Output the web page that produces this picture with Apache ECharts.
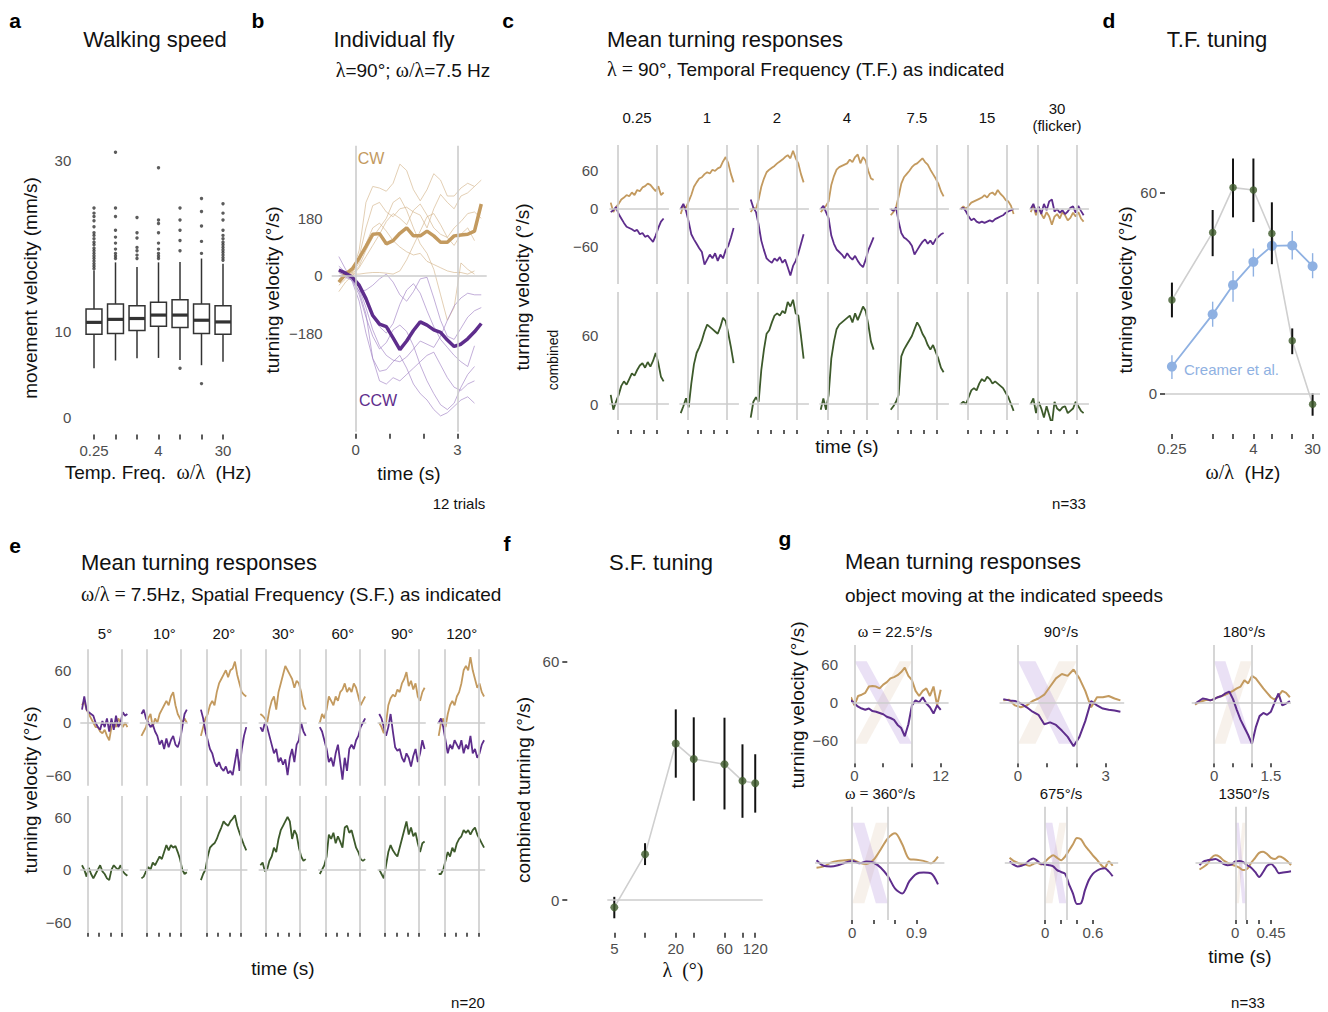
<!DOCTYPE html>
<html>
<head>
<meta charset="utf-8">
<title>Turning responses</title>
<script src="https://cdn.jsdelivr.net/npm/echarts@6.0.0/dist/echarts.min.js"></script>
<style>
html, body { margin: 0; padding: 0; background: #fff; }
#chart { width: 1328px; height: 1012px; }
</style>
</head>
<body>
<div id="chart"></div>
<script>
// Colours and fonts
const CW_COL = '#c39a5f', CCW_COL = '#5e2d8c', COMB_COL = '#3d5a2b', CREAMER_COL = '#8fb1e2';
const REF_COL = '#cccccc', INK = '#262626', TICK_TXT = '#4d4d4d';
const SANS = '"Liberation Sans", Arial, Helvetica, sans-serif';
const SERIF = '"Liberation Serif", "DejaVu Serif", serif';

// ---- a: walking speed, box stats per temporal frequency
const tfLabels = ['0.25', '1', '2', '4', '7.5', '15', '30'];
const walkLow  = [5.7, 6.6, 6.85, 6.9, 6.65, 6.05, 6.45];
const walkQ1   = [9.65, 9.75, 10.1, 10.6, 10.45, 9.75, 9.65];
const walkMed  = [11.05, 11.4, 11.5, 11.9, 11.9, 11.3, 11.1];
const walkQ3   = [12.6, 13.2, 13.0, 13.4, 13.7, 13.2, 13.0];
const walkHigh = [17.1, 18.05, 17.5, 18.05, 18.1, 18.5, 17.9];
const walkOutliers = [
  [17.3, 17.6, 17.9, 18.2, 18.5, 18.8, 19.1, 19.4, 19.7, 20.1, 20.4, 20.8, 21.2, 21.5, 22.2, 22.9, 23.4, 23.8, 24.4],
  [18.5, 18.8, 19.1, 19.6, 20.3, 21.0, 21.8, 23.4, 24.4, 30.9],
  [18.5, 18.9, 19.4, 19.8, 20.9, 21.5, 23.3],
  [18.5, 18.8, 19.1, 19.6, 20.3, 21.5, 22.6, 23.0, 29.1],
  [5.7, 19.4, 20.6, 21.8, 23.0, 24.4],
  [3.9, 19.1, 20.5, 22.3, 24.0, 25.5],
  [18.3, 18.6, 18.9, 19.2, 19.5, 19.8, 20.1, 20.4, 20.8, 21.2, 21.8, 23.0, 23.8, 24.9]
];

// ---- b: individual fly, 12 trials plus means
const bTime = [-0.5, -0.3, -0.1, 0.1, 0.3, 0.5, 0.7, 0.9, 1.1, 1.3, 1.5, 1.7, 1.9, 2.1, 2.3, 2.5, 2.7, 2.9, 3.1, 3.3, 3.5, 3.7];
const bTrialsCW = [
  [-10, 0, 10, 80, 230, 280, 275, 265, 290, 350, 330, 270, 235, 270, 320, 300, 250, 250, 275, 290, 280, null],
  [-30, -10, 15, 60, 150, 220, 230, 200, 185, 210, 215, 200, 190, 150, 210, 255, 230, 210, 250, 260, 280, 300],
  [0, 5, 10, 40, 100, 150, 165, 140, 110, 90, 75, 65, 70, 45, 35, 25, 15, 10, 10, 5, 15, null],
  [10, 0, 5, 5, 8, 10, 10, 8, 5, 15, 50, 95, 140, 185, 195, 160, 120, 95, 130, 150, 110, null],
  [-20, 0, 5, 30, 80, 120, 150, 180, 230, 245, 205, 150, 100, 70, 20, -60, -140, -100, 40, 20, 5, null],
  [-50, -20, 0, 25, 60, 95, 130, 170, 195, 180, 160, 205, 225, 190, 150, 130, 120, 150, 170, 195, 200, 180]
];
const bTrialsCCW = [
  [60, 20, -20, -80, -180, -260, -300, -295, -270, -250, -290, -340, -370, -390, -420, -440, -430, -410, -390, -380, -400, null],
  [20, 10, -10, -50, -120, -260, -330, -340, -320, -330, -310, -290, -270, -250, -240, -280, -320, -350, -360, -340, -330, null],
  [0, 0, -15, -50, -45, -30, -10, 5, -20, -60, -80, -50, -10, -5, -70, -140, -190, -200, -165, -130, -110, -100],
  [10, 0, -10, -35, -80, -130, -160, -180, -150, -90, -45, -25, -55, -110, -160, -200, -225, -250, -270, -285, -220, null],
  [30, 10, -5, -40, -100, -170, -220, -250, -265, -270, -255, -230, -205, -215, -225, -190, -140, -95, -70, -55, -60, -60],
  [0, -5, -15, -60, -130, -190, -230, -210, -170, -155, -175, -220, -280, -330, -370, -405, -420, -400, -350, -310, -285, null]
];
const bMeanCW  = [-20, 5, 22, 55, 92, 130, 132, 100, 110, 133, 150, 125, 125, 140, 125, 105, 105, 125, 128, 130, 140, 225];
const bMeanCCW = [18, 8, -5, -30, -72, -125, -152, -160, -195, -232, -205, -172, -145, -155, -170, -178, -202, -222, -215, -198, -176, -150];

// ---- c: mean responses per temporal frequency
const cTF = ['0.25', '1', '2', '4', '7.5', '15', '30\n(flicker)'];
const cTime = [-0.5, -0.3, -0.1, 0.1, 0.3, 0.5, 0.7, 0.9, 1.1, 1.3, 1.5, 1.7, 1.9, 2.1, 2.3, 2.5, 2.7, 2.9, 3.1, 3.3, 3.5];
const cCW = [
  [10, -5, 3, 8, 15, 18, 22, 20, 26, 22, 30, 28, 34, 36, 40, 38, 33, 28, 36, 22, 26],
  [-8, 5, 2, 12, 22, 35, 42, 48, 50, 55, 58, 56, 62, 60, 64, 66, 75, 82, 72, 55, 42],
  [-5, 2, 0, 15, 35, 48, 58, 62, 65, 68, 72, 75, 78, 82, 85, 80, 92, 80, 72, 55, 42],
  [-5, 0, 5, 12, 38, 52, 62, 66, 68, 70, 72, 78, 74, 82, 86, 72, 82, 76, 60, 48, 46],
  [-10, -5, 2, 20, 40, 50, 55, 60, 66, 70, 72, 76, 80, 74, 70, 62, 55, 48, 40, 28, 20],
  [0, 4, 0, 5, 10, 12, 14, 16, 18, 22, 18, 24, 26, 22, 30, 24, 20, 14, 12, 5, -8],
  [-5, 5, -10, 2, -8, -15, -5, -12, -25, -12, -8, -15, -5, -10, -18, -14, -6, -12, -5, -15, -20]
];
const cCCW = [
  [-5, -2, 3, -8, -15, -22, -28, -30, -32, -35, -33, -40, -38, -44, -42, -47, -52, -42, -30, -20, -15],
  [0, 8, -3, -20, -40, -48, -55, -62, -68, -88, -80, -72, -78, -70, -82, -72, -78, -65, -58, -45, -30],
  [15, 2, -5, -25, -50, -65, -78, -82, -85, -78, -82, -76, -85, -80, -92, -105, -90, -82, -70, -55, -40],
  [0, 5, -5, -15, -42, -55, -64, -68, -72, -78, -70, -76, -80, -74, -82, -88, -92, -80, -65, -55, -45],
  [0, -3, 2, -20, -38, -45, -48, -52, -58, -72, -65, -58, -52, -48, -55, -50, -56, -48, -44, -40, -38],
  [0, 2, -4, -12, -18, -15, -20, -22, -20, -22, -20, -18, -20, -16, -14, -12, -10, -6, -4, -2, 0],
  [0, 8, -5, 4, -8, 8, -2, 12, 15, -4, 0, -6, -2, -8, -4, 2, 4, -6, 5, -3, -10]
];
const cComb = [
  [8, -5, 2, 8, 16, 20, 17, 22, 27, 25, 30, 34, 36, 32, 37, 33, 38, 45, 36, 24, 20],
  [-8, -2, 5, -3, 18, 35, 45, 50, 56, 64, 70, 68, 66, 64, 62, 68, 76, 73, 62, 50, 36],
  [-12, 2, 6, 2, 30, 48, 62, 65, 72, 78, 80, 78, 82, 80, 90, 86, 92, 80, 78, 60, 40],
  [-5, 5, -5, 8, 40, 55, 66, 70, 72, 74, 76, 78, 72, 80, 74, 80, 86, 82, 70, 55, 48],
  [-5, -2, 2, 8, 42, 48, 52, 56, 60, 66, 72, 68, 62, 58, 52, 48, 52, 46, 40, 32, 28],
  [0, 2, 0, 6, 12, 14, 12, 18, 22, 20, 24, 22, 18, 20, 18, 16, 14, 10, 6, 0, -6],
  [0, 5, -8, 2, -4, -12, -2, -10, -18, 2, -4, -6, -3, -2, -8, -6, -4, 2, -2, -6, -8]
];

// ---- d: temporal frequency tuning
const tfValues = [0.25, 1, 2, 4, 7.5, 15, 30];
const tfMean = [27.9, 48.1, 61.5, 60.8, 47.8, 15.7, -3.3];
const tfLow  = [22.7, 41.0, 52.6, 51.2, 38.6, 11.7, -6.7];
const tfHigh = [33.1, 54.8, 70.2, 70.2, 57.1, 19.4, 0.0];
const creamerMean = [8.0, 23.6, 32.4, 39.3, 44.1, 44.2, 38.0];
const creamerLow  = [4.3, 19.9, 27.4, 34.9, 40.5, 40.0, 34.4];
const creamerHigh = [11.4, 27.4, 36.6, 43.3, 47.8, 48.5, 41.9];

// ---- e: mean responses per spatial wavelength
const eSF = ['5°', '10°', '20°', '30°', '60°', '90°', '120°'];
const eTime = [-0.5, -0.3, -0.1, 0.1, 0.3, 0.5, 0.7, 0.9, 1.1, 1.3, 1.5, 1.7, 1.9, 2.1, 2.3, 2.5, 2.7, 2.9, 3.1, 3.3, 3.5];
const eCW = [
  [20, 25, 15, 10, 5, 0, -5, -5, -10, -12, -8, -15, -20, -5, 0, -5, 5, 0, -5, 0, -5],
  [-15, -10, -5, 5, 10, -5, 5, 0, 10, 15, 20, 25, 20, 30, 35, 20, 10, 5, 0, 5, 0],
  [-15, -5, 5, 10, 20, 25, 20, 35, 45, 50, 55, 60, 52, 60, 62, 70, 55, 45, 35, 32, 30],
  [10, 8, 5, 0, 15, 25, 30, 15, 35, 45, 55, 65, 60, 55, 50, 40, 48, 45, 35, 20, 15],
  [0, 10, 5, 15, 30, 25, 20, 30, 25, 35, 38, 45, 35, 40, 35, 45, 40, 30, 20, 25, 30],
  [0, -5, -12, 0, 20, 28, 32, 30, 38, 35, 45, 50, 58, 42, 48, 38, 45, 30, 25, 35, 40],
  [-15, 0, 5, -5, 10, 20, 25, 20, 30, 35, 45, 60, 65, 60, 75, 60, 50, 40, 45, 35, 30]
];
const eCCW = [
  [15, 30, 15, 12, 10, 8, 0, -5, -8, 2, -5, 5, -10, 5, -8, 8, -5, 0, 12, 8, 10],
  [10, 15, 5, 0, -5, -2, -10, -15, -25, -20, -30, -18, -28, -20, -15, -25, -28, -20, -5, 10, 15],
  [15, 5, -10, -20, -30, -35, -45, -50, -45, -52, -55, -50, -58, -55, -60, -45, -30, -55, -30, -15, -5],
  [-5, -10, 0, -5, -15, -25, -35, -30, -45, -40, -48, -42, -60, -40, -30, -45, -25, -20, 0, -10, -15],
  [-5, -10, -20, -30, -45, -40, -50, -35, -25, -45, -65, -40, -55, -30, -25, -30, -20, -15, -5, 0, 5],
  [10, 5, -5, -15, -5, 10, -10, -28, -32, -30, -40, -45, -35, -40, -50, -38, -30, -45, -35, -20, -30],
  [0, 5, -5, -20, -35, -25, -30, -20, -25, -30, -20, -35, -25, -30, -15, -35, -30, -40, -35, -25, -20]
];
const eComb = [
  [5, 0, -8, 2, -5, -10, -5, 0, 5, -2, -5, -10, -12, 0, 5, 2, 0, 5, -2, -5, -7],
  [-10, -8, -2, 3, 0, 8, 5, 10, 15, 12, 20, 28, 22, 28, 25, 27, 20, 12, 0, -5, -3],
  [-12, -5, 0, 15, 25, 28, 30, 35, 42, 48, 55, 52, 50, 55, 58, 62, 50, 42, 35, 28, 22],
  [5, 8, -2, 0, 10, 15, 25, 20, 35, 45, 50, 55, 60, 55, 35, 45, 40, 25, 15, 10, 12],
  [-5, 0, 5, 15, 40, 35, 42, 30, 38, 32, 25, 48, 50, 42, 45, 35, 25, 20, 12, 10, 12],
  [0, -5, -10, 5, 20, 28, 22, 18, 15, 25, 35, 45, 55, 40, 48, 38, 42, 30, 20, 30, 32],
  [-5, -5, 0, 10, 20, 15, 25, 20, 30, 35, 38, 45, 42, 45, 40, 45, 48, 40, 35, 30, 25]
];

// ---- f: spatial frequency tuning
const sfValues = [5, 10, 20, 30, 60, 90, 120];
const sfMean = [-1.85, 11.5, 39.4, 35.5, 34.2, 30.0, 29.4];
const sfLow  = [-4.6, 8.8, 30.8, 25.0, 22.8, 20.7, 22.0];
const sfHigh = [0.8, 14.3, 48.0, 46.0, 45.9, 39.2, 36.7];

// ---- g: moving object at several speeds
const gSpeedTitles = ['{m|ω = }22.5°/s', '90°/s', '180°/s', '{m|ω = }360°/s', '675°/s', '1350°/s'];
const gCrossTime = [8, 2, 1, 0.5, 0.2667, 0.1333];
const gBandWidth = [1.7, 0.6, 0.3, 0.17, 0.09, 0.045];
const gTime = [
  [-0.5, 0, 0.5, 1, 1.5, 2, 2.5, 3, 3.5, 4, 4.5, 5, 5.5, 6, 6.5, 7, 7.5, 8, 8.5, 9, 9.5, 10, 10.5, 11, 11.5, 12],
  [-0.5, -0.3, -0.1, 0.1, 0.3, 0.5, 0.7, 0.9, 1.1, 1.3, 1.5, 1.7, 1.9, 2.1, 2.3, 2.5, 2.7, 2.9, 3.1, 3.3, 3.5],
  [-0.5, -0.4, -0.3, -0.2, -0.1, 0, 0.1, 0.2, 0.3, 0.4, 0.5, 0.6, 0.7, 0.8, 0.9, 1.0, 1.1, 1.2, 1.3, 1.4, 1.5, 1.6, 1.7, 1.8, 1.9, 2.0],
  [-0.5, -0.4, -0.3, -0.2, -0.1, 0, 0.1, 0.2, 0.3, 0.4, 0.5, 0.6, 0.7, 0.8, 0.9, 1.0, 1.1, 1.2],
  [-0.45, -0.4, -0.35, -0.3, -0.25, -0.2, -0.15, -0.1, -0.05, 0, 0.05, 0.1, 0.15, 0.2, 0.25, 0.3, 0.35, 0.4, 0.45, 0.5, 0.55, 0.6, 0.65, 0.7, 0.75, 0.8, 0.85],
  [-0.45, -0.4, -0.35, -0.3, -0.25, -0.2, -0.15, -0.1, -0.05, 0, 0.05, 0.1, 0.15, 0.2, 0.25, 0.3, 0.35, 0.4, 0.45, 0.5, 0.55, 0.6, 0.65, 0.7]
];
const gCW = [
  [8, -5, 10, 12, 15, 25, 26, 25, 22, 28, 32, 38, 40, 43, 48, 55, 42, 35, 18, 10, 18, 22, 10, 25, -5, 20],
  [3, 4, -5, -8, -5, 2, 6, 12, 25, 38, 45, 42, 52, 38, 18, -8, 8, 8, 10, 6, 3],
  [-4, 0, 2, 4, 3, 5, 8, 10, 12, 15, 18, 22, 25, 35, 30, 42, 38, 30, 22, 15, 8, 4, 10, 18, 15, 8],
  [-8, -6, 0, 3, 4, 5, 0, -2, 5, 22, 40, 48, 30, 6, 5, 3, -1, 10],
  [8, 3, 0, -2, -3, -5, -2, 0, -3, 2, 8, 12, 8, 4, 10, 20, 30, 40, 38, 28, 20, 12, 5, -3, -8, 2, -5],
  [-11, -7, -2, 8, 12, 10, 4, 0, -3, -5, -8, -12, -10, 0, 8, 16, 18, 14, 8, 6, 10, 8, 3, -4]
];
const gCCW = [
  [3, -2, -7, -10, -12, -10, -14, -15, -17, -19, -23, -25, -28, -36, -41, -54, -35, -5, 3, 0, 8, -2, -8, -18, -5, -12],
  [5, 3, 2, -2, -8, -15, -20, -35, -32, -36, -45, -55, -70, -55, -30, 2, -5, -10, -12, -13, -15],
  [-2, 2, 6, 5, 3, 5, 8, 10, 14, 17, 5, -12, -28, -40, -52, -66, -40, -22, -17, -20, -15, 0, 14, -5, -2, 2],
  [4, -5, -6, -4, 0, 3, -1, 2, 0, -8, -22, -42, -50, -30, -18, -16, -17, -35],
  [2, -3, -6, -5, -2, 4, 7, 3, -2, -3, -4, -6, -12, -15, -18, -35, -50, -67, -66, -45, -28, -18, -13, -10, -9, -14, -22],
  [-4, 2, 4, 5, 6, 3, -2, -4, -3, 2, 3, 1, -4, -8, -15, -23, -15, -5, -2, -8, -17, -16, -15, -14]
];

// ---------------------------------------------------------------
const grids = [], xAxes = [], yAxes = [], series = [], graphics = [];
const minus = v => (v < 0 ? '\u2212' + Math.abs(v) : String(v));

function axisDef(gi, o) {
  const a = {
    gridIndex: gi, type: o.type || 'value', offset: o.offset || 0,
    axisLine: { show: false, onZero: false }, splitLine: { show: false },
    axisTick: { show: !!o.ticks, length: o.tickLen || 5, lineStyle: { color: INK, width: 1.5 } },
    axisLabel: { show: !!o.labels, color: TICK_TXT, fontSize: 15, fontFamily: SANS, margin: o.margin || 6, formatter: o.fmt || minus }
  };
  if (o.min !== undefined) { a.min = o.min; a.max = o.max; }
  if (o.data) a.data = o.data;
  if (Array.isArray(o.ticks)) a.axisTick.customValues = o.ticks;
  if (Array.isArray(o.labels)) a.axisLabel.customValues = o.labels;
  if (o.tickExtra) Object.assign(a.axisTick, o.tickExtra);
  if (o.labelExtra) Object.assign(a.axisLabel, o.labelExtra);
  return a;
}
function addPanel(box, xo, yo) {
  const gi = grids.length;
  grids.push({ left: box[0], top: box[1], width: box[2], height: box[3] });
  xAxes.push(axisDef(gi, xo));
  yAxes.push(axisDef(gi, yo));
  return gi;
}
function addLine(gi, xs, ys, color, width, opts) {
  opts = opts || {};
  series.push({
    type: 'line', xAxisIndex: gi, yAxisIndex: gi, silent: true, z: opts.z || 2,
    data: xs.map((x, k) => [x, ys[k]]),
    showSymbol: !!opts.symbolSize, symbol: opts.symbolSize ? 'circle' : 'none', symbolSize: opts.symbolSize || 0,
    itemStyle: { color: color, opacity: 1 },
    smooth: opts.smooth || false,
    lineStyle: { color: color, width: width, opacity: opts.opacity === undefined ? 1 : opts.opacity }
  });
}
function refLines(gi, vx, hy) {
  const d = [];
  if (hy) d.push({ yAxis: 0 });
  vx.forEach(v => d.push({ xAxis: v }));
  series.push({
    type: 'line', xAxisIndex: gi, yAxisIndex: gi, data: [], silent: true, z: 1,
    markLine: { silent: true, symbol: ['none', 'none'], label: { show: false }, animation: false,
      lineStyle: { color: REF_COL, width: 1.6, type: 'solid' }, emphasis: { disabled: true }, data: d }
  });
}
function errorBars(gi, xs, lo, hi, color, width) {
  series.push({
    type: 'custom', xAxisIndex: gi, yAxisIndex: gi, z: 3, silent: true,
    data: xs.map((x, k) => [x, lo[k], hi[k]]),
    renderItem: (params, api) => {
      const p = api.coord([api.value(0), api.value(1)]);
      const q = api.coord([api.value(0), api.value(2)]);
      return { type: 'line', shape: { x1: p[0], y1: p[1], x2: q[0], y2: q[1] }, style: { stroke: color, lineWidth: width } };
    }
  });
}
function txt(x, y, s, o) {
  o = o || {};
  graphics.push({
    type: 'text', x: x, y: y, rotation: o.rot || 0, silent: true,
    style: {
      text: s, fill: o.color || '#111', fontSize: o.size || 15, fontWeight: o.weight || 'normal',
      fontFamily: o.family || SANS, lineHeight: o.lineHeight,
      textAlign: o.align || 'center', align: o.align || 'center',
      textVerticalAlign: 'middle', verticalAlign: 'middle',
      rich: { m: { fontFamily: SERIF, fontSize: (o.size || 15) + 1, fill: o.color || '#111' } }
    }
  });
}

// ---- panel a
const ga = addPanel([83.25, 146.3, 150.5, 285.3],
  { type: 'category', data: tfLabels, ticks: true, labels: true, offset: 3, margin: 8,
    tickExtra: { alignWithLabel: true, interval: 0 }, labelExtra: { interval: idx => idx % 3 === 0 }, fmt: v => v },
  { min: -1.7, max: 31.6, labels: [0, 10, 30], margin: 12 });
series.push({
  type: 'custom', xAxisIndex: ga, yAxisIndex: ga, z: 2, silent: true,
  data: tfLabels.map((_, i) => [i, walkLow[i], walkQ1[i], walkMed[i], walkQ3[i], walkHigh[i]]),
  renderItem: (params, api) => {
    const i = api.value(0);
    const w = api.size([1, 0])[0] * 0.74;
    const lo = api.coord([i, api.value(1)]), q1 = api.coord([i, api.value(2)]), md = api.coord([i, api.value(3)]);
    const q3 = api.coord([i, api.value(4)]), hi = api.coord([i, api.value(5)]);
    const x = q1[0], st = { stroke: '#333', lineWidth: 1.5 };
    return { type: 'group', children: [
      { type: 'line', shape: { x1: x, y1: hi[1], x2: x, y2: q3[1] }, style: st },
      { type: 'line', shape: { x1: x, y1: q1[1], x2: x, y2: lo[1] }, style: st },
      { type: 'rect', shape: { x: x - w / 2, y: q3[1], width: w, height: q1[1] - q3[1] }, style: { fill: '#fff', stroke: '#333', lineWidth: 1.5 } },
      { type: 'line', shape: { x1: x - w / 2, y1: md[1], x2: x + w / 2, y2: md[1] }, style: { stroke: '#333', lineWidth: 3.2 } }
    ] };
  }
});
const outlierPts = [];
walkOutliers.forEach((list, i) => list.forEach(v => outlierPts.push([i, v])));
series.push({ type: 'scatter', xAxisIndex: ga, yAxisIndex: ga, data: outlierPts, symbolSize: 3.4, silent: true, z: 3,
  itemStyle: { color: '#333' } });

// ---- panel b
const gb = addPanel([331.7, 145.7, 155, 286],
  { min: -0.71, max: 3.86, ticks: [0, 1, 2, 3], labels: [0, 3], offset: 2, margin: 8 },
  { min: -489.5, max: 407.9, labels: [-180, 0, 180], margin: 9 });
refLines(gb, [0, 3], true);
bTrialsCW.forEach(tr => addLine(gb, bTime, tr, '#d4b68c', 1, { opacity: 0.65 }));
bTrialsCCW.forEach(tr => addLine(gb, bTime, tr, '#a283c4', 1, { opacity: 0.65 }));
addLine(gb, bTime, bMeanCW, CW_COL, 3.5, { z: 4 });
addLine(gb, bTime, bMeanCCW, CCW_COL, 3.5, { z: 4 });

// ---- panel c (two rows, seven columns)
for (let i = 0; i < 7; i++) {
  const left = 609.4 + 70 * i;
  const gt = addPanel([left, 145, 59.5, 139], { min: -0.6, max: 3.9 },
    { min: -118.5, max: 101, labels: i === 0 ? [-60, 0, 60] : false, margin: 11 });
  refLines(gt, [0, 3], true);
  addLine(gt, cTime, cCW[i], CW_COL, 1.8);
  addLine(gt, cTime, cCCW[i], CCW_COL, 1.8);
  const gbt = addPanel([left, 292, 59.5, 128], { min: -0.6, max: 3.9, ticks: [0, 1, 2, 3], offset: 10, tickLen: 4 },
    { min: -14.1, max: 98.8, labels: i === 0 ? [0, 60] : false, margin: 11 });
  refLines(gbt, [0, 3], true);
  addLine(gbt, cTime, cComb[i], COMB_COL, 1.8);
  if (i < 6) txt(637 + 70 * i, 117, cTF[i], { size: 15 });
}
txt(1057, 117, cTF[6], { size: 15, lineHeight: 17 });

// ---- panel d
const tfX = tfValues.map(v => Math.log2(v));
const fmtPow = v => String(Number(Math.pow(2, v).toFixed(2)));
const gd = addPanel([1165, 145.8, 155, 284.3],
  { min: -2.34, max: 5.27, ticks: tfX, labels: [Math.log2(0.25), Math.log2(4), Math.log2(30)], offset: 4, margin: 7, fmt: fmtPow },
  { min: -11, max: 74, ticks: [0, 60], labels: [0, 60], margin: 8 });
refLines(gd, [], true);
addLine(gd, tfX, tfMean, '#cfcfcf', 1.6, { z: 2 });
addLine(gd, tfX, creamerMean, CREAMER_COL, 1.8, { z: 2, symbolSize: 10 });
errorBars(gd, tfX, creamerLow, creamerHigh, CREAMER_COL, 1.4);
errorBars(gd, tfX, tfLow, tfHigh, '#111', 2);
series.push({ type: 'scatter', xAxisIndex: gd, yAxisIndex: gd, z: 5, silent: true, symbolSize: 7.5,
  data: tfX.map((x, k) => [x, tfMean[k]]), itemStyle: { color: COMB_COL } });

// ---- panel e (two rows, seven columns)
for (let i = 0; i < 7; i++) {
  const left = 80.3 + 59.45 * i;
  const gt = addPanel([left, 649.3, 48.2, 136.4], { min: -0.65, max: 3.6 },
    { min: -72, max: 84, labels: i === 0 ? [-60, 0, 60] : false, margin: 9 });
  refLines(gt, [0, 3], true);
  addLine(gt, eTime, eCW[i], CW_COL, 1.8);
  addLine(gt, eTime, eCCW[i], CCW_COL, 1.8);
  const gbt = addPanel([left, 796, 48.2, 136.7], { min: -0.65, max: 3.6, ticks: [0, 1, 2, 3], offset: 0, tickLen: 4 },
    { min: -72, max: 84, labels: i === 0 ? [-60, 0, 60] : false, margin: 9 });
  refLines(gbt, [0, 3], true);
  addLine(gbt, eTime, eComb[i], COMB_COL, 1.8);
  txt(105 + 59.45 * i, 633, eSF[i], { size: 15 });
}

// ---- panel f
const sfX = sfValues.map(v => Math.log2(v));
const gf = addPanel([607.3, 649.8, 155.4, 280],
  { min: 2.094, max: 7.15, ticks: sfX, labels: [Math.log2(5), Math.log2(20), Math.log2(60), Math.log2(120)], offset: 3, margin: 8, fmt: fmtPow },
  { min: -7.5, max: 63, ticks: [0, 60], labels: [0, 60], offset: 40, margin: 8 });
refLines(gf, [], true);
addLine(gf, sfX, sfMean, '#cfcfcf', 1.6);
errorBars(gf, sfX, sfLow, sfHigh, '#111', 2);
series.push({ type: 'scatter', xAxisIndex: gf, yAxisIndex: gf, z: 5, silent: true, symbolSize: 8,
  data: sfX.map((x, k) => [x, sfMean[k]]), itemStyle: { color: COMB_COL } });

// ---- panel g (2 x 3 small panels)
const gBoxes = [
  [852, 645, 96.6, 118.3], [999.5, 645, 124.7, 118.3], [1191.7, 645, 99.3, 118.3],
  [815.1, 806.7, 129.3, 113.3], [1004.8, 806.7, 113.4, 113.3], [1195.5, 806.7, 96.3, 113.3]
];
const gXRange = [[-0.35, 13.1], [-0.63, 3.63], [-0.59, 2.03], [-0.52, 1.29], [-0.51, 0.92], [-0.5, 0.71]];
const gTicks = [[0, 4, 8, 12], [0, 1, 2, 3], [0, 0.5, 1, 1.5], [0, 0.3, 0.6, 0.9], [0, 0.2, 0.4, 0.6], [0, 0.15, 0.3, 0.45]];
const gTitlePos = [[895, 631], [1061, 631], [1244, 631], [880, 793], [1061, 793], [1244, 793]];
for (let i = 0; i < 6; i++) {
  const yr = i < 3 ? [-97, 91] : [-93, 91];
  const tk = gTicks[i];
  const gi = addPanel(gBoxes[i],
    { min: gXRange[i][0], max: gXRange[i][1], ticks: tk, labels: [tk[0], tk[3]], tickLen: 4, margin: 5 },
    { min: yr[0], max: yr[1], labels: i === 0 ? [-60, 0, 60] : false, margin: 14 });
  series.push({
    type: 'custom', xAxisIndex: gi, yAxisIndex: gi, z: 0, silent: true,
    data: [[gCrossTime[i], gBandWidth[i], 65, -66]],
    renderItem: (params, api) => {
      const T = api.value(0), w = api.value(1), top = api.value(2), bot = api.value(3);
      const pur = [[0, top], [w, top], [T, bot], [T - w, bot]].map(p => api.coord(p));
      const tan = [[0, bot], [w, bot], [T, top], [T - w, top]].map(p => api.coord(p));
      return { type: 'group', children: [
        { type: 'polygon', shape: { points: tan }, style: { fill: 'rgba(205,170,130,0.16)' } },
        { type: 'polygon', shape: { points: pur }, style: { fill: 'rgba(160,120,210,0.22)' } }
      ] };
    }
  });
  refLines(gi, [0, gCrossTime[i]], true);
  addLine(gi, gTime[i], gCW[i], CW_COL, 2, { smooth: i >= 3 ? 0.3 : false });
  addLine(gi, gTime[i], gCCW[i], CCW_COL, 2, { smooth: i >= 3 ? 0.3 : false });
  txt(gTitlePos[i][0], gTitlePos[i][1], gSpeedTitles[i], { size: 15 });
}

// ---- texts: letters, titles, axis names
const R = Math.PI / 2;
[['a', 15, 20], ['b', 258, 20], ['c', 508, 20], ['d', 1109, 20], ['e', 15, 545], ['f', 507, 543], ['g', 785, 538]]
  .forEach(l => txt(l[1], l[2], l[0], { size: 21, weight: 'bold', color: '#000' }));

txt(155, 39, 'Walking speed', { size: 22 });
txt(394, 39, 'Individual fly', { size: 22 });
txt(413, 70, '{m|λ}=90°; {m|ω/λ}=7.5 Hz', { size: 19 });
txt(607, 39, 'Mean turning responses', { size: 22, align: 'left' });
txt(607, 69, '{m|λ = }90°, Temporal Frequency (T.F.) as indicated', { size: 19, align: 'left' });
txt(1217, 39, 'T.F. tuning', { size: 22 });
txt(81, 562, 'Mean turning responses', { size: 22, align: 'left' });
txt(81, 594, '{m|ω/λ = }7.5Hz, Spatial Frequency (S.F.) as indicated', { size: 19, align: 'left' });
txt(661, 562, 'S.F. tuning', { size: 22 });
txt(845, 561, 'Mean turning responses', { size: 22, align: 'left' });
txt(845, 595, 'object moving at the indicated speeds', { size: 19, align: 'left' });

txt(30, 288, 'movement velocity (mm/s)', { size: 19, rot: R });
txt(158, 472, 'Temp. Freq.  {m|ω/λ}  (Hz)', { size: 19 });
txt(272, 290, 'turning velocity (°/s)', { size: 19, rot: R });
txt(409, 473, 'time (s)', { size: 19 });
txt(459, 503, '12 trials', { size: 15 });
txt(371, 158, 'CW', { size: 16, color: CW_COL });
txt(378, 400, 'CCW', { size: 16, color: CCW_COL });
txt(522, 287, 'turning velocity (°/s)', { size: 19, rot: R });
txt(553, 360, 'combined', { size: 14, rot: R });
txt(847, 446, 'time (s)', { size: 19 });
txt(1069, 503, 'n=33', { size: 15 });
txt(1125, 290, 'turning velocity (°/s)', { size: 19, rot: R });
txt(1243, 472, '{m|ω/λ}  (Hz)', { size: 19 });
txt(1184, 369, 'Creamer et al.', { size: 15, color: CREAMER_COL, align: 'left' });
txt(30, 790, 'turning velocity (°/s)', { size: 19, rot: R });
txt(283, 968, 'time (s)', { size: 19 });
txt(468, 1002, 'n=20', { size: 15 });
txt(523, 790, 'combined turning (°/s)', { size: 19, rot: R });
txt(683, 970, '{m|λ  (°)}', { size: 19 });
txt(797, 705, 'turning velocity (°/s)', { size: 19, rot: R });
txt(1240, 956, 'time (s)', { size: 19 });
txt(1248, 1002, 'n=33', { size: 15 });

// Apply the option
const chart = echarts.init(document.getElementById('chart'), null, { renderer: 'svg' });
chart.setOption({
  animation: false,
  backgroundColor: '#ffffff',
  textStyle: { fontFamily: SANS },
  grid: grids, xAxis: xAxes, yAxis: yAxes,
  series: series,
  graphic: graphics
});
</script>
</body>
</html>
